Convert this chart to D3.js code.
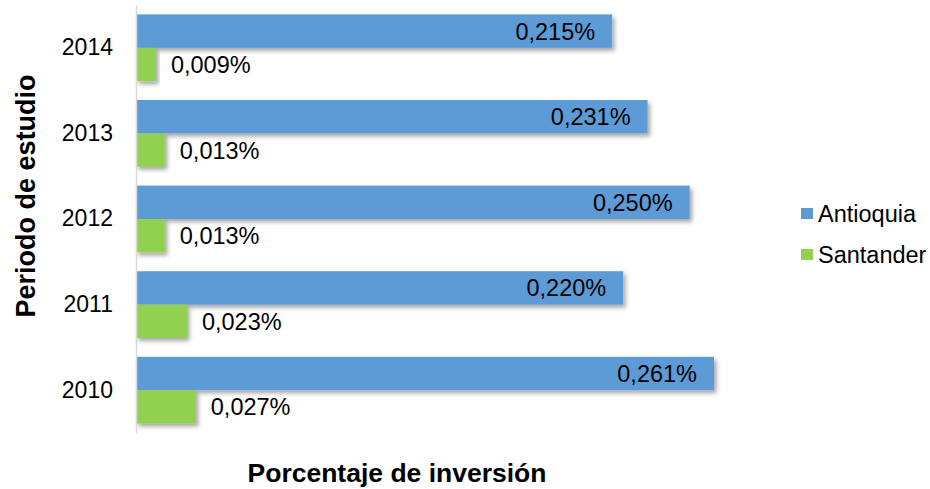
<!DOCTYPE html>
<html>
<head>
<meta charset="utf-8">
<script src="https://cdn.jsdelivr.net/npm/d3@7"></script>
<style>
  body { margin: 0; background: #fff; }
  text { font-family: Arial, "Liberation Sans", sans-serif; fill: #000; }
</style>
</head>
<body>
<script>
var years = ['2014', '2013', '2012', '2011', '2010'];
var seriesNames = ['Antioquia', 'Santander'];
var antioquia = [0.215, 0.231, 0.250, 0.220, 0.261];
var santander = [0.009, 0.013, 0.013, 0.023, 0.027];
var colors = ['#5B9BD5', '#92D050'];

var width = 930, height = 489;
var margin = {top: 5, left: 136, bottom: 56};

var svg = d3.select(document.body).append('svg')
    .attr('width', width)
    .attr('height', height);

var defs = svg.append('defs');
var f = defs.append('filter').attr('id', 'shadow')
    .attr('x', '-10%').attr('y', '-20%').attr('width', '130%').attr('height', '160%');
f.append('feDropShadow')
    .attr('dx', 2.5).attr('dy', 3).attr('stdDeviation', 2)
    .attr('flood-color', '#000').attr('flood-opacity', 0.35);

var x = d3.scaleLinear().domain([0, 0.261]).range([margin.left, 714]);
var y = d3.scaleBand().domain(years).range([margin.top, height - margin.bottom])
    .paddingInner(0.22).paddingOuter(0.11);
var sub = d3.scaleBand().domain(seriesNames).range([0, y.bandwidth()]);

var fmt = function(v) { return d3.format('.3f')(v).replace('.', ',') + '%'; };

var data = years.map(function(yr, i) {
  return {year: yr, vals: [antioquia[i], santander[i]]};
});

var groups = svg.selectAll('g.year').data(data).enter().append('g')
    .attr('class', 'year')
    .attr('transform', function(d) { return 'translate(0,' + y(d.year) + ')'; });

function cells(d) {
  return d.vals.map(function(v, j) { return {v: v, s: seriesNames[j], j: j}; });
}

groups.selectAll('rect').data(cells).enter().append('rect')
    .attr('x', x(0))
    .attr('y', function(d) { return sub(d.s); })
    .attr('height', sub.bandwidth())
    .attr('width', function(d) { return x(d.v) - x(0); })
    .attr('fill', function(d) { return colors[d.j]; })
    .attr('filter', 'url(#shadow)');

groups.selectAll('text.val').data(cells).enter().append('text')
    .attr('class', 'val')
    .attr('x', function(d) { return d.j === 0 ? x(d.v) - 17 : x(d.v) + 15; })
    .attr('y', function(d) { return sub(d.s) + sub.bandwidth() / 2; })
    .attr('dy', '0.36em')
    .attr('text-anchor', function(d) { return d.j === 0 ? 'end' : 'start'; })
    .style('font-size', '23.5px')
    .text(function(d) { return fmt(d.v); });

// axis
var axis = svg.append('g')
    .attr('transform', 'translate(' + margin.left + ',0)')
    .call(d3.axisLeft(y).tickSize(0).tickPadding(23));
axis.select('.domain').attr('stroke', '#d9d9d9').attr('stroke-width', 1.5);
axis.selectAll('.tick text')
    .style('font-size', '23px')
    .style('font-family', 'Arial, "Liberation Sans", sans-serif')
    .attr('fill', '#000');

// axis titles
svg.append('text')
    .attr('x', 397).attr('y', 482)
    .attr('text-anchor', 'middle')
    .style('font-size', '26.5px').style('font-weight', 'bold')
    .text('Porcentaje de inversión');

svg.append('text')
    .attr('transform', 'translate(35,196) rotate(-90)')
    .attr('text-anchor', 'middle')
    .style('font-size', '27px').style('font-weight', 'bold')
    .text('Periodo de estudio');

// legend
var legend = svg.selectAll('g.legend').data(seriesNames).enter().append('g')
    .attr('class', 'legend')
    .attr('transform', function(d, i) { return 'translate(801,' + (208 + i * 41) + ')'; });
legend.append('rect')
    .attr('width', 12).attr('height', 11)
    .attr('fill', function(d, i) { return colors[i]; });
legend.append('text')
    .attr('x', 17).attr('y', 5.5).attr('dy', '0.36em')
    .style('font-size', '23.5px')
    .text(function(d) { return d; });
</script>
</body>
</html>
